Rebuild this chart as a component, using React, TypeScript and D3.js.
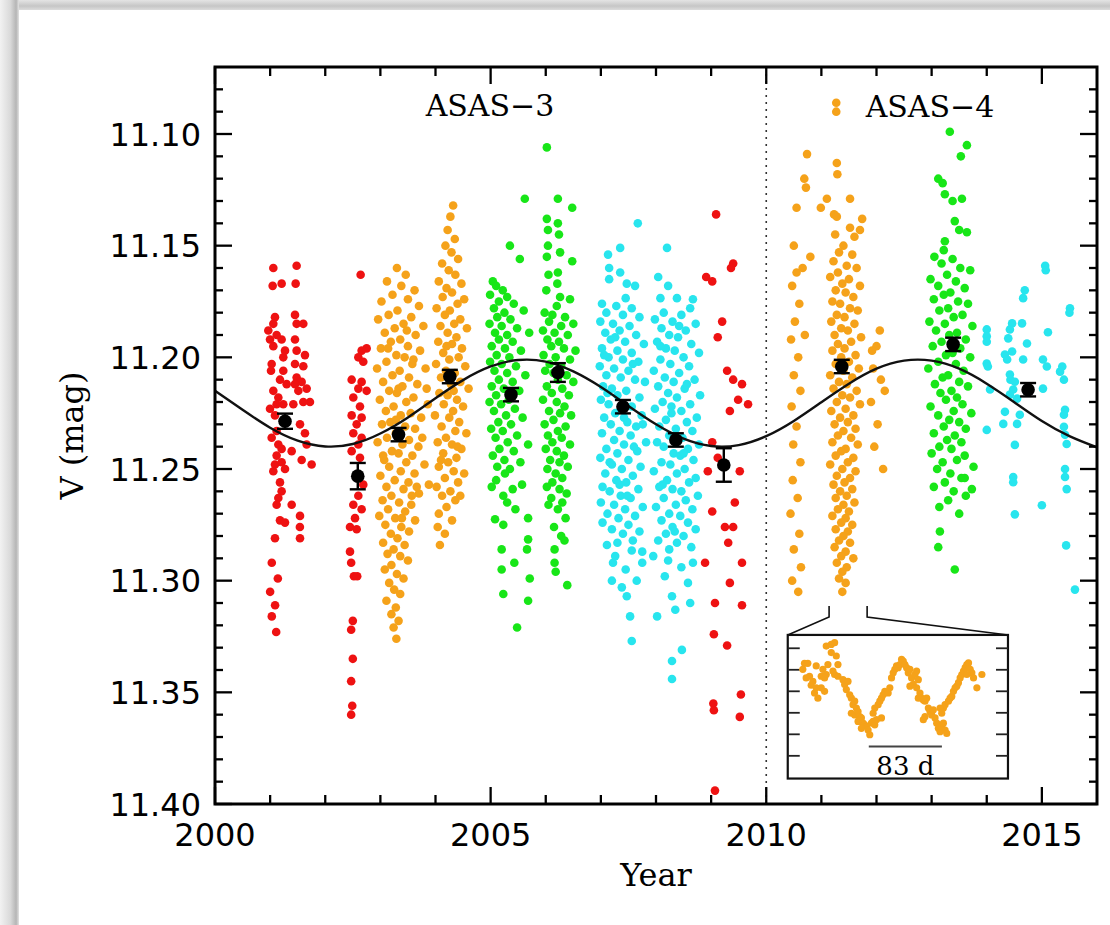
import React from 'react';
import * as d3 from 'd3';

// ---------- layout ----------
const W = 1110;
const H = 925;
const PLOT = { left: 215, right: 1097, top: 67, bottom: 804 };

// ---------- axes ----------
const YEAR_DOMAIN: [number, number] = [2000, 2016];
const MAG_DOMAIN: [number, number] = [11.07, 11.4];
const X_MAJOR = [2000, 2005, 2010, 2015];
const X_MINOR = [2001, 2002, 2003, 2004, 2006, 2007, 2008, 2009, 2011, 2012, 2013, 2014];
const Y_MAJOR = [11.1, 11.15, 11.2, 11.25, 11.3, 11.35, 11.4];
const Y_LABELS = ['11.10', '11.15', '11.20', '11.25', '11.30', '11.35', '11.40'];

// ---------- colours ----------
const RED = '#ee1212';
const ORANGE = '#f5a21a';
const GREEN = '#18e618';
const CYAN = '#28e5ee';

// ---------- photometry: [year, V mag] ----------
const S1_RED = [
  [2001.058,11.16],[2001.046,11.168],[2001.209,11.167],[2001.481,11.159],[2001.463,11.167],[2001.088,11.182],
  [2001.058,11.185],[2000.998,11.192],[2001.058,11.195],[2001.209,11.192],[2001.239,11.2],[2001.028,11.203],
  [2001.239,11.206],[2001.179,11.21],[2001.058,11.215],[2001.149,11.218],[2001.239,11.221],[2001.088,11.226],
  [2001.118,11.233],[2001.149,11.239],[2001.118,11.244],[2001.088,11.248],[2001.209,11.247],[2001.179,11.256],
  [2001.209,11.26],[2001.118,11.266],[2001.391,11.266],[2001.179,11.273],[2001.542,11.271],[2001.088,11.281],
  [2001.542,11.281],[2001.451,11.181],[2001.481,11.185],[2001.602,11.185],[2001.451,11.192],[2001.481,11.197],
  [2001.632,11.199],[2001.451,11.203],[2001.602,11.204],[2001.481,11.209],[2001.572,11.211],[2001.451,11.212],
  [2001.663,11.214],[2001.512,11.215],[2001.723,11.22],[2001.602,11.22],[2001.421,11.221],[2001.542,11.23],
  [2001.632,11.234],[2001.663,11.239],[2001.391,11.242],[2001.572,11.246],[2001.753,11.248],[2000.967,11.188],
  [2001.118,11.19],[2001.27,11.197],[2001.016,11.206],[2001.3,11.212],[2001.118,11.221],[2000.998,11.223],
  [2001.3,11.229],[2001.028,11.236],[2001.209,11.241],[2001.058,11.251],[2001.27,11.25],[2001.149,11.263],
  [2001.03,11.292],[2001.14,11.299],[2001.0,11.305],[2001.09,11.311],[2001.03,11.316],[2001.11,11.323],
  [2001.27,11.274],[2001.54,11.276],
];
const S2_RED = [
  [2002.642,11.163],[2002.751,11.196],[2002.66,11.197],[2002.6,11.2],[2002.69,11.202],[2002.479,11.21],
  [2002.66,11.211],[2002.6,11.214],[2002.751,11.215],[2002.509,11.218],[2002.63,11.222],[2002.479,11.226],
  [2002.66,11.227],[2002.57,11.23],[2002.509,11.234],[2002.66,11.236],[2002.6,11.239],[2002.479,11.242],
  [2002.63,11.245],[2002.69,11.257],[2002.6,11.262],[2002.509,11.266],[2002.66,11.268],[2002.54,11.272],
  [2002.449,11.276],[2002.57,11.277],[2002.449,11.287],[2002.47,11.292],[2002.52,11.298],[2002.58,11.298],
  [2002.5,11.318],[2002.47,11.322],[2002.5,11.335],[2002.47,11.345],[2002.49,11.356],[2002.47,11.36],
];
const S3_ORANGE = [
  [2003.3,11.16],[2003.46,11.163],[2003.12,11.166],[2003.38,11.168],[2003.62,11.17],[2003.22,11.172],[2003.02,11.175],
  [2003.5,11.174],[2003.7,11.177],[2003.31,11.179],[2003.15,11.181],[2002.96,11.183],[2003.56,11.182],[2003.42,11.185],
  [2003.26,11.187],[2003.78,11.186],[2003.08,11.189],[2003.64,11.19],[2003.36,11.192],[2003.19,11.193],[2003.5,11.195],
  [2003.01,11.196],[2003.72,11.197],[2003.29,11.199],[2003.44,11.2],[2003.11,11.202],[2003.58,11.203],[2002.94,11.205],
  [2003.35,11.206],[2003.82,11.205],[2003.22,11.208],[2003.52,11.209],[2003.05,11.211],[2003.67,11.212],[2003.4,11.213],
  [2003.16,11.215],[2003.3,11.216],[2003.6,11.218],[2002.99,11.219],[2003.47,11.22],[2003.86,11.221],[2003.24,11.222],
  [2003.1,11.224],[2003.55,11.225],[2003.37,11.226],[2003.74,11.227],[2003.18,11.229],[2003.03,11.23],[2003.45,11.231],
  [2003.63,11.232],[2003.28,11.234],[2003.12,11.236],[2003.52,11.237],[2002.95,11.238],[2003.4,11.239],[2003.69,11.24],
  [2003.21,11.242],[2003.33,11.243],[2003.58,11.244],[2003.07,11.246],[2003.47,11.247],[2003.8,11.248],[2003.16,11.249],
  [2003.37,11.251],[2003.62,11.252],[2003.0,11.253],[2003.26,11.255],[2003.51,11.256],[2003.11,11.258],[2003.42,11.259],
  [2003.88,11.257],[2003.7,11.261],[2003.2,11.262],[2003.04,11.264],[2003.34,11.265],[2003.56,11.266],[2003.14,11.268],
  [2003.45,11.269],[2002.98,11.271],[2003.27,11.272],[2003.63,11.273],[2003.09,11.275],[2003.38,11.276],[2003.52,11.278],
  [2003.19,11.279],[2003.31,11.281],[2003.05,11.283],[2003.44,11.284],[2003.24,11.286],[2003.13,11.288],[2003.36,11.289],
  [2003.5,11.291],[2003.2,11.293],[2003.08,11.295],[2003.3,11.297],[2003.42,11.299],[2003.16,11.301],[2003.25,11.304],
  [2003.36,11.306],[2003.11,11.309],[2003.28,11.312],[2003.2,11.315],[2003.33,11.318],[2003.24,11.321],[2003.29,11.326],
  [2003.48,11.188],[2003.6,11.201],[2003.33,11.214],[2003.76,11.236],[2003.05,11.244],[2003.66,11.258],[2003.28,11.228],
  [2003.84,11.214],[2003.14,11.196],[2003.57,11.262],[2003.39,11.272],
];
const S4_ORANGE = [
  [2004.32,11.132],[2004.27,11.137],[2004.22,11.143],[2004.35,11.147],[2004.18,11.15],[2004.29,11.153],[2004.41,11.156],
  [2004.12,11.158],[2004.24,11.161],[2004.36,11.163],[2004.06,11.166],[2004.47,11.167],[2004.2,11.169],[2004.3,11.171],
  [2004.13,11.173],[2004.52,11.174],[2004.4,11.176],[2004.02,11.178],[2004.26,11.179],[2004.17,11.181],[2004.45,11.183],
  [2004.34,11.185],[2004.09,11.186],[2004.57,11.187],[2004.22,11.189],[2004.38,11.191],[2004.05,11.193],[2004.3,11.194],
  [2004.48,11.196],[2004.14,11.198],[2004.42,11.2],[2004.25,11.201],[2004.01,11.203],[2004.54,11.204],[2004.19,11.206],
  [2004.35,11.207],[2004.1,11.209],[2004.45,11.211],[2004.28,11.212],[2004.6,11.214],[2004.07,11.216],[2004.22,11.217],
  [2004.39,11.219],[2004.15,11.221],[2004.5,11.222],[2004.32,11.224],[2003.99,11.226],[2004.25,11.227],[2004.43,11.229],
  [2004.11,11.231],[2004.36,11.233],[2004.56,11.234],[2004.19,11.236],[2004.04,11.238],[2004.3,11.239],[2004.47,11.241],
  [2004.14,11.243],[2004.38,11.245],[2004.23,11.247],[2004.06,11.249],[2004.33,11.251],[2004.52,11.252],[2004.17,11.254],
  [2004.41,11.256],[2004.02,11.258],[2004.27,11.26],[2004.12,11.262],[2004.36,11.264],[2004.2,11.267],[2004.06,11.27],
  [2004.3,11.273],[2004.45,11.262],[2004.04,11.276],[2004.17,11.279],[2004.08,11.284],[2004.33,11.215],[2004.2,11.195],
  [2004.4,11.24],[2004.1,11.246],
];
const S5_GREEN = [
  [2005.62,11.129],[2005.35,11.15],[2005.53,11.156],[2005.04,11.166],[2005.1,11.168],[2005.22,11.17],[2004.99,11.172],
  [2005.3,11.173],[2005.15,11.175],[2005.42,11.176],[2005.06,11.178],[2005.25,11.18],[2005.6,11.179],[2005.12,11.182],
  [2005.36,11.183],[2004.98,11.185],[2005.2,11.186],[2005.48,11.187],[2005.08,11.189],[2005.3,11.19],[2005.7,11.189],
  [2005.15,11.192],[2005.4,11.193],[2005.02,11.195],[2005.26,11.196],[2005.55,11.197],[2005.11,11.199],[2005.34,11.2],
  [2004.99,11.202],[2005.2,11.203],[2005.46,11.204],[2005.07,11.206],[2005.3,11.207],[2005.63,11.208],[2005.15,11.21],
  [2005.4,11.211],[2005.02,11.213],[2005.24,11.214],[2005.52,11.215],[2005.1,11.217],[2005.33,11.219],[2004.98,11.22],
  [2005.19,11.221],[2005.44,11.223],[2005.06,11.224],[2005.28,11.226],[2005.58,11.227],[2005.14,11.229],[2005.37,11.23],
  [2005.01,11.232],[2005.22,11.233],[2005.48,11.235],[2005.09,11.236],[2005.31,11.238],[2005.68,11.239],[2005.16,11.241],
  [2005.42,11.242],[2005.04,11.244],[2005.25,11.246],[2005.54,11.247],[2005.12,11.249],[2005.35,11.25],[2005.26,11.252],
  [2005.4,11.259],[2005.23,11.262],[2005.57,11.257],[2005.08,11.2725],[2005.68,11.272],[2005.23,11.275],
  [2005.68,11.2815],[2005.2,11.286],[2005.66,11.286],[2005.43,11.292],[2005.2,11.295],[2005.71,11.299],
  [2005.23,11.306],[2005.68,11.309],[2005.48,11.321],[2005.3,11.265],[2005.1,11.255],[2005.45,11.268],[2005.02,11.258],
];
const S6_GREEN = [
  [2006.02,11.106],[2006.22,11.129],[2006.48,11.133],[2006.02,11.138],[2006.22,11.14],[2006.04,11.143],[2006.24,11.145],
  [2006.04,11.15],[2006.02,11.155],[2006.26,11.153],[2006.48,11.157],[2006.05,11.163],[2006.22,11.162],[2006.21,11.167],
  [2006.01,11.17],[2006.26,11.173],[2006.44,11.174],[2006.2,11.177],[2005.98,11.18],[2006.12,11.181],[2006.35,11.182],
  [2006.06,11.184],[2006.28,11.186],[2006.5,11.185],[2005.95,11.188],[2006.16,11.189],[2006.4,11.19],[2006.03,11.192],
  [2006.24,11.193],[2006.1,11.195],[2006.33,11.196],[2006.54,11.197],[2005.96,11.199],[2006.18,11.2],[2006.44,11.201],
  [2006.07,11.203],[2006.28,11.204],[2005.99,11.206],[2006.14,11.207],[2006.38,11.208],[2006.22,11.21],[2006.5,11.211],
  [2006.02,11.213],[2006.3,11.214],[2006.11,11.216],[2006.42,11.217],[2005.95,11.219],[2006.2,11.22],[2006.34,11.222],
  [2006.06,11.224],[2006.26,11.225],[2006.46,11.226],[2006.14,11.228],[2005.98,11.23],[2006.36,11.231],[2006.22,11.233],
  [2006.04,11.235],[2006.29,11.236],[2006.12,11.238],[2006.44,11.239],[2006.0,11.241],[2006.2,11.242],[2006.33,11.244],
  [2006.08,11.246],[2006.25,11.247],[2006.4,11.249],[2006.03,11.25],[2006.18,11.252],[2006.3,11.254],[2006.12,11.256],
  [2006.02,11.258],[2006.25,11.259],[2006.38,11.261],[2006.1,11.263],[2006.3,11.265],[2006.22,11.268],[2006.05,11.266],
  [2006.36,11.272],[2006.15,11.276],[2006.28,11.28],[2006.16,11.286],[2006.16,11.292],[2006.18,11.296],[2006.39,11.302],
  [2006.34,11.282],
];
const S7_CYAN = [
  [2007.67,11.14],[2007.35,11.151],[2007.13,11.154],[2007.15,11.16],[2007.35,11.162],[2007.47,11.167],[2007.62,11.168],
  [2007.15,11.165],[2007.45,11.1735],[2007.02,11.176],[2007.28,11.177],[2007.56,11.178],[2007.1,11.18],[2007.4,11.181],
  [2007.7,11.182],[2006.99,11.184],[2007.22,11.185],[2007.52,11.186],[2007.34,11.188],[2007.08,11.189],[2007.64,11.19],
  [2007.18,11.192],[2007.44,11.193],[2007.78,11.194],[2007.02,11.196],[2007.3,11.197],[2007.56,11.198],[2007.14,11.2],
  [2007.4,11.201],[2007.68,11.202],[2006.98,11.204],[2007.24,11.205],[2007.5,11.206],[2007.1,11.208],[2007.36,11.209],
  [2007.62,11.21],[2007.8,11.211],[2007.04,11.213],[2007.2,11.214],[2007.46,11.215],[2007.3,11.217],[2007.7,11.218],
  [2007.0,11.219],[2007.14,11.221],[2007.56,11.222],[2007.38,11.223],[2007.26,11.225],[2007.74,11.226],[2007.06,11.227],
  [2007.48,11.229],[2007.18,11.23],[2007.64,11.231],[2007.34,11.233],[2007.02,11.234],[2007.54,11.235],[2007.24,11.237],
  [2007.82,11.238],[2007.42,11.239],[2007.1,11.241],[2007.66,11.242],[2007.3,11.243],[2006.99,11.245],[2007.5,11.246],
  [2007.2,11.248],[2007.72,11.249],[2007.38,11.25],[2007.08,11.252],[2007.58,11.253],[2007.28,11.255],[2007.46,11.256],
  [2007.03,11.258],[2007.68,11.259],[2007.16,11.26],[2007.36,11.262],[2007.54,11.263],[2007.0,11.265],[2007.24,11.266],
  [2007.76,11.267],[2007.44,11.268],[2007.12,11.27],[2007.62,11.271],[2007.32,11.272],[2007.03,11.274],[2007.5,11.275],
  [2007.2,11.277],[2007.7,11.278],[2007.4,11.279],[2007.11,11.284],[2007.58,11.282],[2007.3,11.283],[2007.75,11.287],
  [2007.56,11.2865],[2007.22,11.292],[2007.75,11.292],[2007.26,11.289],[2007.45,11.295],[2007.38,11.303],
  [2007.47,11.307],[2007.53,11.316],[2007.56,11.327],[2007.65,11.3],[2007.2,11.3],[2007.26,11.191],[2007.58,11.203],
  [2007.12,11.216],[2007.42,11.227],[2007.6,11.24],[2007.16,11.247],[2007.34,11.257],[2007.06,11.199],[2007.76,11.23],
  [2007.48,11.262],
];
const S8_CYAN = [
  [2008.2,11.151],[2008.04,11.164],[2008.22,11.168],[2008.08,11.1735],[2008.38,11.1735],[2008.67,11.174],[2008.62,11.178],
  [2008.14,11.18],[2008.46,11.181],[2007.98,11.183],[2008.3,11.184],[2008.72,11.185],[2008.1,11.187],[2008.54,11.188],
  [2008.24,11.19],[2008.4,11.191],[2008.02,11.193],[2008.64,11.194],[2008.18,11.196],[2008.34,11.197],[2008.78,11.198],
  [2008.5,11.2],[2008.08,11.201],[2008.26,11.203],[2008.6,11.204],[2007.96,11.206],[2008.42,11.207],[2008.16,11.209],
  [2008.7,11.21],[2008.32,11.211],[2008.04,11.213],[2008.52,11.214],[2008.22,11.216],[2008.8,11.217],[2008.38,11.218],
  [2008.12,11.22],[2008.62,11.221],[2007.98,11.223],[2008.46,11.224],[2008.28,11.225],[2008.74,11.227],[2008.18,11.228],
  [2008.56,11.229],[2008.06,11.231],[2008.36,11.232],[2008.66,11.233],[2008.24,11.235],[2008.48,11.236],[2008.02,11.238],
  [2008.78,11.239],[2008.14,11.24],[2008.58,11.241],[2008.32,11.243],[2008.44,11.244],[2008.68,11.246],[2008.1,11.247],
  [2008.26,11.248],[2008.52,11.25],[2007.96,11.251],[2008.38,11.252],[2008.72,11.254],[2008.2,11.255],[2008.6,11.256],
  [2008.06,11.258],[2008.3,11.259],[2008.46,11.26],[2008.76,11.262],[2008.14,11.263],[2008.54,11.264],[2008.36,11.266],
  [2008.0,11.267],[2008.66,11.268],[2008.24,11.27],[2008.44,11.271],[2008.1,11.273],[2008.58,11.274],[2008.3,11.276],
  [2008.72,11.277],[2008.18,11.279],[2008.5,11.28],[2008.04,11.282],[2008.38,11.283],[2008.64,11.285],[2008.24,11.286],
  [2007.95,11.289],[2008.22,11.291],[2008.67,11.292],[2008.46,11.294],[2008.16,11.298],[2008.58,11.301],[2008.29,11.307],
  [2008.62,11.31],[2008.35,11.313],[2008.02,11.316],[2008.47,11.331],[2008.29,11.336],[2008.29,11.344],[2008.42,11.186],
  [2008.28,11.222],[2008.5,11.243],[2008.12,11.257],[2008.34,11.278],[2008.56,11.212],[2008.08,11.195],
];
const S9_RED = [
  [2009.09,11.136],[2009.4,11.158],[2009.36,11.16],[2008.91,11.164],[2009.02,11.166],[2009.2,11.184],[2009.12,11.191],
  [2009.29,11.206],[2009.4,11.21],[2009.56,11.212],[2009.49,11.219],[2009.67,11.221],[2009.34,11.224],[2009.02,11.238],
  [2009.12,11.245],[2008.94,11.251],[2009.52,11.251],[2009.43,11.265],[2009.02,11.269],[2009.25,11.276],[2009.4,11.276],
  [2009.31,11.283],[2008.89,11.292],[2009.56,11.292],[2009.34,11.301],[2009.07,11.31],[2009.56,11.311],[2009.05,11.324],
  [2009.29,11.329],[2009.54,11.351],[2009.04,11.355],[2009.05,11.358],[2009.52,11.361],[2009.07,11.394],
];
const S10_ORANGE = [
  [2011.27,11.086],[2011.27,11.09],[2010.74,11.109],[2011.28,11.113],[2011.29,11.118],[2010.69,11.12],[2010.72,11.124],
  [2011.1,11.129],[2011.52,11.129],[2010.55,11.133],[2010.99,11.133],[2011.23,11.136],[2011.28,11.137],[2011.74,11.138],
  [2011.52,11.142],[2011.7,11.143],[2011.25,11.145],[2011.6,11.146],[2010.5,11.15],[2010.8,11.155],[2010.55,11.162],
  [2010.47,11.168],[2010.6,11.176],[2010.52,11.184],[2010.45,11.192],[2010.58,11.2],[2010.5,11.208],[2010.62,11.215],
  [2010.46,11.222],[2010.55,11.231],[2010.49,11.239],[2010.62,11.247],[2010.48,11.255],[2010.57,11.263],[2010.44,11.27],
  [2010.6,11.279],[2010.5,11.286],[2010.63,11.294],[2010.47,11.3],[2010.58,11.305],[2010.66,11.16],[2010.7,11.19],
  [2011.4,11.15],[2011.32,11.153],[2011.56,11.154],[2011.22,11.157],[2011.46,11.159],[2011.64,11.16],[2011.3,11.162],
  [2011.16,11.164],[2011.5,11.165],[2011.38,11.167],[2011.7,11.168],[2011.26,11.17],[2011.44,11.171],[2011.58,11.173],
  [2011.2,11.175],[2011.34,11.176],[2011.52,11.178],[2011.66,11.179],[2011.28,11.181],[2011.42,11.182],[2011.18,11.184],
  [2011.6,11.185],[2011.36,11.187],[2011.48,11.188],[2011.24,11.19],[2011.72,11.191],[2011.54,11.193],[2011.3,11.194],
  [2011.42,11.196],[2011.2,11.197],[2011.62,11.199],[2011.36,11.2],[2011.5,11.202],[2011.26,11.203],[2011.68,11.205],
  [2011.4,11.206],[2011.16,11.208],[2011.56,11.209],[2011.32,11.211],[2011.46,11.212],[2011.22,11.214],[2011.64,11.215],
  [2011.38,11.217],[2011.52,11.218],[2011.28,11.22],[2011.7,11.221],[2011.44,11.223],[2011.18,11.224],[2011.58,11.226],
  [2011.34,11.227],[2011.48,11.229],[2011.24,11.23],[2011.62,11.232],[2011.4,11.233],[2011.3,11.235],[2011.54,11.236],
  [2011.2,11.238],[2011.66,11.239],[2011.44,11.241],[2011.36,11.242],[2011.26,11.244],[2011.58,11.245],[2011.48,11.247],
  [2011.16,11.248],[2011.38,11.25],[2011.62,11.251],[2011.28,11.253],[2011.52,11.254],[2011.42,11.256],[2011.22,11.257],
  [2011.56,11.259],[2011.34,11.26],[2011.46,11.262],[2011.26,11.263],[2011.6,11.265],[2011.4,11.266],[2011.3,11.268],
  [2011.5,11.269],[2011.2,11.271],[2011.44,11.272],[2011.36,11.274],[2011.56,11.275],[2011.26,11.277],[2011.48,11.278],
  [2011.4,11.28],[2011.32,11.282],[2011.52,11.283],[2011.24,11.285],[2011.44,11.287],[2011.36,11.289],[2011.58,11.29],
  [2011.28,11.292],[2011.46,11.294],[2011.38,11.296],[2011.32,11.299],[2011.44,11.301],[2011.38,11.305],
  [2012.06,11.188],[2012.0,11.195],[2011.94,11.205],[2012.08,11.21],[2012.15,11.215],[2011.9,11.22],[2012.02,11.23],
  [2011.96,11.24],[2012.12,11.25],[2011.92,11.197],
];
const S11_GREEN = [
  [2013.33,11.099],[2013.64,11.105],[2013.53,11.11],[2013.12,11.12],[2013.2,11.122],[2013.24,11.127],[2013.55,11.129],
  [2013.38,11.13],[2013.42,11.139],[2013.5,11.143],[2013.64,11.144],[2013.24,11.148],[2013.22,11.152],[2013.05,11.155],
  [2013.38,11.156],[2013.18,11.158],[2013.52,11.16],[2013.7,11.161],[2013.28,11.163],[2012.98,11.165],[2013.44,11.166],
  [2013.12,11.168],[2013.6,11.169],[2013.34,11.171],[2013.22,11.172],[2013.04,11.174],[2013.48,11.175],[2013.66,11.176],
  [2013.3,11.178],[2013.14,11.179],[2013.56,11.181],[2013.4,11.182],[2012.96,11.184],[2013.24,11.185],[2013.74,11.186],
  [2013.08,11.188],[2013.46,11.189],[2013.32,11.19],[2013.62,11.192],[2013.18,11.193],[2013.02,11.195],[2013.52,11.196],
  [2013.38,11.198],[2013.26,11.199],[2013.7,11.2],[2013.12,11.202],[2013.44,11.203],[2012.94,11.205],[2013.58,11.206],
  [2013.3,11.208],[2013.2,11.209],[2013.5,11.211],[2013.06,11.212],[2013.66,11.213],[2013.36,11.215],[2013.16,11.216],
  [2013.46,11.218],[2013.26,11.219],[2013.56,11.221],[2012.98,11.222],[2013.4,11.224],[2013.72,11.225],[2013.12,11.226],
  [2013.32,11.228],[2013.5,11.229],[2013.22,11.231],[2013.62,11.232],[2013.04,11.234],[2013.42,11.235],[2013.28,11.237],
  [2013.54,11.238],[2013.14,11.24],[2013.36,11.241],[2013.0,11.243],[2013.6,11.244],[2013.46,11.246],[2013.2,11.247],
  [2013.76,11.249],[2013.1,11.25],[2013.34,11.252],[2013.54,11.254],[2013.24,11.256],[2013.04,11.258],[2013.4,11.26],
  [2013.62,11.262],[2013.3,11.264],[2013.14,11.267],[2013.5,11.27],[2013.15,11.278],[2013.12,11.285],[2013.42,11.295],
  [2013.73,11.259],[2013.6,11.254],
];
const S12_CYAN = [
  [2015.06,11.159],[2015.07,11.161],[2014.69,11.17],[2014.66,11.1735],[2015.51,11.178],[2015.5,11.18],[2014.46,11.1848],
  [2014.64,11.1848],[2014.42,11.1875],[2014.0,11.1875],[2014.0,11.1906],[2014.39,11.1915],[2015.11,11.1888],
  [2014.0,11.193],[2014.73,11.1938],[2014.46,11.1974],[2014.33,11.1987],[2014.37,11.201],[2014.66,11.201],
  [2014.0,11.2028],[2014.02,11.2041],[2015.02,11.201],[2015.09,11.2041],[2015.37,11.2041],[2015.33,11.2064],
  [2014.42,11.2077],[2014.43,11.21],[2014.51,11.2109],[2015.4,11.21],[2015.02,11.214],[2014.06,11.2144],
  [2014.48,11.2144],[2014.42,11.2167],[2014.55,11.2185],[2015.42,11.2235],[2014.33,11.2244],[2015.4,11.2257],
  [2014.6,11.2257],[2014.3,11.2298],[2014.55,11.2298],[2015.4,11.2311],[2014.0,11.2325],[2015.42,11.2347],
  [2015.45,11.2388],[2014.51,11.2392],[2015.42,11.25],[2015.42,11.2536],[2014.48,11.2536],[2014.48,11.2559],
  [2015.45,11.259],[2015.0,11.2662],[2014.51,11.2703],[2015.44,11.2842],[2015.6,11.304],
];

const SEASONS = [
  { pts: S1_RED, color: RED }, { pts: S2_RED, color: RED },
  { pts: S3_ORANGE, color: ORANGE }, { pts: S4_ORANGE, color: ORANGE },
  { pts: S5_GREEN, color: GREEN }, { pts: S6_GREEN, color: GREEN },
  { pts: S7_CYAN, color: CYAN }, { pts: S8_CYAN, color: CYAN },
  { pts: S9_RED, color: RED }, { pts: S10_ORANGE, color: ORANGE },
  { pts: S11_GREEN, color: GREEN }, { pts: S12_CYAN, color: CYAN },
];

// seasonal means with errors
const MEAN_YEARS = [2001.27, 2002.59, 2003.33, 2004.26, 2005.37, 2006.22, 2007.4, 2008.36, 2009.23, 2011.37, 2013.39, 2014.75];
const MEAN_MAGS = [11.2286, 11.2532, 11.2346, 11.2086, 11.2167, 11.2068, 11.2221, 11.237, 11.2482, 11.2041, 11.1942, 11.2145];
const MEAN_ERRS = [0.0034, 0.0059, 0.003, 0.003, 0.003, 0.0042, 0.003, 0.003, 0.0075, 0.003, 0.003, 0.003];

// long-period model curve
const MODEL_YEARS = [2000, 2000.5, 2001, 2001.5, 2002, 2002.5, 2003, 2003.5, 2004, 2004.5, 2005, 2005.5, 2006, 2006.5,
  2007, 2007.5, 2008, 2008.5, 2009, 2009.5, 2010, 2010.5, 2011, 2011.5, 2012, 2012.5, 2013, 2013.5, 2014, 2014.5,
  2015, 2015.5, 2016];
const MODEL_MAGS = [11.215, 11.2235, 11.2315, 11.2373, 11.2399, 11.2388, 11.2341, 11.2269, 11.2183, 11.2102, 11.2041,
  11.2012, 11.2019, 11.2063, 11.2133, 11.2218, 11.23, 11.2364, 11.2397, 11.2393, 11.2353, 11.2285, 11.2201, 11.2118,
  11.2051, 11.2015, 11.2015, 11.2051, 11.2118, 11.2201, 11.2285, 11.2353, 11.2403];

// inset: ASAS-4 2011 season, [day, delta mag]
const INSET_POINTS = [
  [19.0, -0.065], [22.8, -0.065], [17.1, -0.051], [24.7, -0.035], [20.9, -0.031], [28.5, -0.023], [26.6, -0.014],
  [32.3, -0.008], [30.4, 0.004], [34.2, 0.016], [32.3, -0.059], [39.9, -0.051], [38.0, -0.035], [41.8, -0.031],
  [43.7, -0.039], [45.6, -0.062], [43.7, -0.105], [49.4, -0.109], [53.2, -0.113], [49.4, -0.09], [55.1, -0.082],
  [57.0, -0.062], [53.2, -0.039], [57.0, -0.035], [51.3, -0.047], [41.8, 0.0], [38.0, -0.008], [62.7, -0.027],
  [64.6, -0.016], [66.5, -0.004], [68.4, -0.023], [70.3, 0.008], [72.2, 0.016], [74.1, 0.031], [76.0, 0.023],
  [77.9, 0.039], [72.2, 0.051], [76.0, 0.055], [79.8, 0.047], [81.7, 0.059], [83.6, 0.062], [79.8, 0.07],
  [85.5, 0.074], [87.4, 0.078], [89.3, 0.082], [83.6, 0.086], [91.2, 0.09], [93.1, 0.101], [95.0, 0.074],
  [96.9, 0.07], [98.8, 0.078], [100.7, 0.066], [96.9, 0.051], [98.8, 0.039], [102.6, 0.031], [104.5, 0.023],
  [106.4, 0.016], [108.3, 0.008], [106.4, 0.062], [110.2, 0.0], [114.0, 0.004], [115.9, -0.008], [117.8, -0.031],
  [119.7, -0.043], [121.6, -0.051], [123.5, -0.059], [125.4, -0.055], [127.3, -0.062], [129.2, -0.074],
  [131.1, -0.07], [133.0, -0.062], [134.9, -0.055], [136.8, -0.043], [138.7, -0.051], [140.6, -0.031],
  [142.5, -0.016], [138.7, -0.012], [144.4, -0.039], [146.3, -0.047], [148.2, -0.027], [146.3, -0.008],
  [148.2, 0.016], [150.1, 0.004], [152.0, 0.016], [153.9, 0.02], [155.8, 0.023], [157.7, 0.016], [159.6, 0.039],
  [161.5, 0.047], [155.8, 0.059], [153.9, 0.066], [163.4, 0.055], [165.3, 0.043], [167.2, 0.062], [169.1, 0.074],
  [171.0, 0.086], [172.9, 0.094], [174.8, 0.082], [176.7, 0.074], [178.6, 0.09], [180.5, 0.098], [174.8, 0.051],
  [176.7, 0.039], [178.6, 0.031], [172.9, 0.039], [182.4, 0.023], [184.3, 0.016], [186.2, 0.012], [188.1, 0.0],
  [190.0, -0.008], [191.9, -0.012], [193.8, -0.02], [195.7, -0.031], [197.6, -0.039], [199.5, -0.047],
  [201.4, -0.055], [203.3, -0.062], [205.2, -0.066], [207.1, -0.051], [209.0, -0.043], [210.9, -0.031],
  [214.7, -0.008], [220.4, -0.039], [203.3, -0.039],
];
const INSET_DAY_DOMAIN: [number, number] = [0, 250];
const INSET_DMAG_DOMAIN: [number, number] = [-0.131, 0.2028];
const INSET_TICKS = [-0.1, -0.05, 0, 0.05, 0.1, 0.15];
const INSET_BAR_DAYS = [92, 175];
const INSET_BAR_LABEL = '83 d';

// inset placement (in main-plot data coordinates)
const INSET_BOX = { x0: 2010.39, x1: 2014.385, y0: 11.3243, y1: 11.3886 };
const INSET_SOURCE = { x0: 2011.14, x1: 2011.83, yTop: 11.3113, yBottom: 11.3163 };

const SANS = '"DejaVu Sans", Verdana, sans-serif';
const SERIF = '"DejaVu Serif", "Liberation Serif", serif';

export default function App() {
  const x = d3.scaleLinear().domain(YEAR_DOMAIN).range([PLOT.left, PLOT.right]);
  const y = d3.scaleLinear().domain(MAG_DOMAIN).range([PLOT.top, PLOT.bottom]);

  const yMinor = d3.range(1108, 1140).filter((v) => v % 5 !== 0).map((v) => v / 100);

  const points = SEASONS.flatMap((s, si) =>
    s.pts.map((p, k) => ({ key: `${si}-${k}`, year: p[0], mag: p[1], color: s.color }))
  );

  const modelLine = d3
    .line<number>()
    .x((_, i) => x(MODEL_YEARS[i]))
    .y((m) => y(m))
    .curve(d3.curveNatural)(MODEL_MAGS) as string;

  const ix0 = x(INSET_BOX.x0), ix1 = x(INSET_BOX.x1), iy0 = y(INSET_BOX.y0), iy1 = y(INSET_BOX.y1);
  const ix = d3.scaleLinear().domain(INSET_DAY_DOMAIN).range([ix0, ix1]);
  const iy = d3.scaleLinear().domain(INSET_DMAG_DOMAIN).range([iy0, iy1]);

  const sx0 = x(INSET_SOURCE.x0), sx1 = x(INSET_SOURCE.x1);
  const sTop = y(INSET_SOURCE.yTop), sBot = y(INSET_SOURCE.yBottom);

  return (
    <svg
      width={W}
      height={H}
      viewBox={`0 0 ${W} ${H}`}
      style={{ position: 'absolute', left: 0, top: 0, display: 'block', background: '#fff' }}
    >
      <defs>
        <linearGradient id="topBand" x1="0" y1="0" x2="0" y2="1">
          <stop offset="0" stopColor="#e4e4e4" />
          <stop offset="0.6" stopColor="#c6c6c6" />
          <stop offset="1" stopColor="#dcdcdc" />
        </linearGradient>
        <linearGradient id="leftBand" x1="0" y1="0" x2="1" y2="0">
          <stop offset="0" stopColor="#f2f2f2" />
          <stop offset="0.55" stopColor="#d9d9d9" />
          <stop offset="0.85" stopColor="#b5b5b5" />
          <stop offset="1" stopColor="#e2e2e2" />
        </linearGradient>
        <clipPath id="plotClip">
          <rect x={PLOT.left} y={PLOT.top} width={PLOT.right - PLOT.left} height={PLOT.bottom - PLOT.top} />
        </clipPath>
      </defs>

      <rect x={0} y={0} width={W} height={H} fill="#fff" />
      <rect x={0} y={0} width={W} height={10} fill="url(#topBand)" />
      <rect x={0} y={0} width={19} height={H} fill="url(#leftBand)" />

      <line x1={x(2010)} x2={x(2010)} y1={PLOT.top} y2={PLOT.bottom} stroke="#333" strokeWidth={1.6} strokeDasharray="2 5" />

      <g clipPath="url(#plotClip)">
        {points.map((p) => (
          <circle key={p.key} cx={x(p.year)} cy={y(p.mag)} r={4.3} fill={p.color} />
        ))}
        <path d={modelLine} fill="none" stroke="#111" strokeWidth={2.4} />
      </g>

      <g>
        {MEAN_YEARS.map((yr, i) => {
          const cx = x(yr);
          const yt = y(MEAN_MAGS[i] - MEAN_ERRS[i]);
          const yb = y(MEAN_MAGS[i] + MEAN_ERRS[i]);
          return (
            <g key={`m${i}`} stroke="#000" strokeWidth={2.4}>
              <line x1={cx} x2={cx} y1={yt} y2={yb} />
              <line x1={cx - 8} x2={cx + 8} y1={yt} y2={yt} />
              <line x1={cx - 8} x2={cx + 8} y1={yb} y2={yb} />
              <circle cx={cx} cy={y(MEAN_MAGS[i])} r={6.8} fill="#000" stroke="none" />
            </g>
          );
        })}
      </g>

      <polyline points={`${sx0},${sTop} ${sx0},${sBot} ${ix0},${iy0}`} fill="none" stroke="#111" strokeWidth={1.6} />
      <polyline points={`${sx1},${sTop} ${sx1},${sBot} ${ix1},${iy0}`} fill="none" stroke="#111" strokeWidth={1.6} />

      <g>
        <rect x={ix0} y={iy0} width={ix1 - ix0} height={iy1 - iy0} fill="#fff" stroke="#111" strokeWidth={2.2} />
        {INSET_TICKS.map((t) => (
          <g key={`it${t}`} stroke="#222" strokeWidth={1.8}>
            <line x1={ix0} x2={ix0 + 12} y1={iy(t)} y2={iy(t)} />
            <line x1={ix1 - 12} x2={ix1} y1={iy(t)} y2={iy(t)} />
          </g>
        ))}
        {INSET_POINTS.map((p, i) => (
          <circle key={`ip${i}`} cx={ix(p[0])} cy={iy(p[1])} r={3.6} fill={ORANGE} />
        ))}
        <line
          x1={ix(INSET_BAR_DAYS[0])}
          x2={ix(INSET_BAR_DAYS[1])}
          y1={iy(0.1285)}
          y2={iy(0.1285)}
          stroke="#444"
          strokeWidth={2}
        />
        <text
          x={(ix(INSET_BAR_DAYS[0]) + ix(INSET_BAR_DAYS[1])) / 2}
          y={iy1 - 4}
          textAnchor="middle"
          fontFamily={SERIF}
          fontSize={26}
          fill="#000"
        >
          {INSET_BAR_LABEL}
        </text>
      </g>

      <g stroke="#000" strokeWidth={2.3}>
        {X_MAJOR.map((t) => (
          <g key={`xM${t}`}>
            <line x1={x(t)} x2={x(t)} y1={PLOT.bottom} y2={PLOT.bottom - 17} />
            <line x1={x(t)} x2={x(t)} y1={PLOT.top} y2={PLOT.top + 17} />
          </g>
        ))}
        {X_MINOR.map((t) => (
          <g key={`xm${t}`}>
            <line x1={x(t)} x2={x(t)} y1={PLOT.bottom} y2={PLOT.bottom - 9} />
            <line x1={x(t)} x2={x(t)} y1={PLOT.top} y2={PLOT.top + 9} />
          </g>
        ))}
        {Y_MAJOR.map((t) => (
          <g key={`yM${t}`}>
            <line x1={PLOT.left} x2={PLOT.left + 17} y1={y(t)} y2={y(t)} />
            <line x1={PLOT.right} x2={PLOT.right - 17} y1={y(t)} y2={y(t)} />
          </g>
        ))}
        {yMinor.map((t) => (
          <g key={`ym${t}`}>
            <line x1={PLOT.left} x2={PLOT.left + 8} y1={y(t)} y2={y(t)} />
            <line x1={PLOT.right} x2={PLOT.right - 8} y1={y(t)} y2={y(t)} />
          </g>
        ))}
      </g>

      <rect
        x={PLOT.left}
        y={PLOT.top}
        width={PLOT.right - PLOT.left}
        height={PLOT.bottom - PLOT.top}
        fill="none"
        stroke="#000"
        strokeWidth={3}
      />

      <g fontFamily={SANS} fontSize={32} fill="#000">
        {Y_MAJOR.map((t, i) => (
          <text key={`yl${t}`} x={PLOT.left - 14} y={y(t) + 11.5} textAnchor="end">
            {Y_LABELS[i]}
          </text>
        ))}
        {X_MAJOR.map((t) => (
          <text key={`xl${t}`} x={x(t)} y={PLOT.bottom + 42} textAnchor="middle">
            {t}
          </text>
        ))}
      </g>

      <text x={(PLOT.left + PLOT.right) / 2} y={886} textAnchor="middle" fontFamily={SERIF} fontSize={32} fill="#000">
        Year
      </text>
      <text
        transform={`translate(83, ${(PLOT.top + PLOT.bottom) / 2}) rotate(-90)`}
        textAnchor="middle"
        fontFamily={SERIF}
        fontSize={32}
        fill="#000"
      >
        V (mag)
      </text>
      <text x={490} y={116} textAnchor="middle" fontFamily={SERIF} fontSize={30} fill="#000">
        ASAS−3
      </text>
      <text x={930} y={117} textAnchor="middle" fontFamily={SERIF} fontSize={30} fill="#000">
        ASAS−4
      </text>
    </svg>
  );
}
